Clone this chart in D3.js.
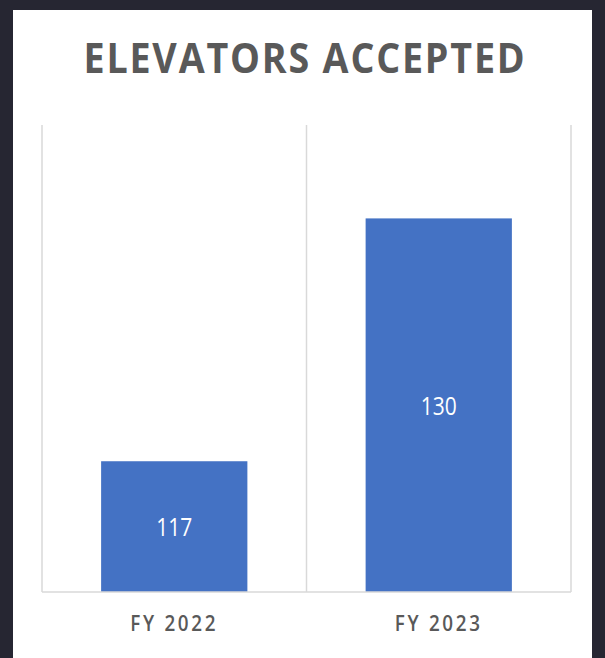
<!DOCTYPE html>
<html>
<head>
<meta charset="utf-8">
<script src="https://cdn.jsdelivr.net/npm/d3@7"></script>
<style>
  html, body { margin: 0; padding: 0; background: #262632; }
  svg { display: block; }
</style>
</head>
<body>
<svg id="chart" width="605" height="658"></svg>
<script>
// Elevators accepted per fiscal year
const categories = ["FY 2022", "FY 2023"];
const values = [117, 130];
const yDomain = [110, 135];
const title = "ELEVATORS ACCEPTED";

const svg = d3.select("#chart");
const W = 605, H = 658;

// white card
svg.append("rect")
  .attr("x", 13).attr("y", 10)
  .attr("width", 579).attr("height", H - 10)
  .attr("fill", "#ffffff");

const plot = { left: 42, right: 571, top: 125, bottom: 592 };

const x = d3.scaleBand()
  .domain(categories)
  .range([plot.left, plot.right])
  .paddingInner(0.447)
  .paddingOuter(0.2235);

const y = d3.scaleLinear()
  .domain(yDomain)
  .range([plot.bottom, plot.top]);

// category separators
const step = (plot.right - plot.left) / categories.length;
const seps = d3.range(categories.length + 1).map(i => plot.left + i * step);
svg.append("g").selectAll("line")
  .data(seps)
  .join("line")
  .attr("x1", d => d).attr("x2", d => d)
  .attr("y1", plot.top).attr("y2", plot.bottom)
  .attr("stroke", "#d9d9d9")
  .attr("stroke-width", 1.5);

// bars
svg.append("g").selectAll("rect")
  .data(values)
  .join("rect")
  .attr("x", (d, i) => x(categories[i]))
  .attr("width", x.bandwidth())
  .attr("y", d => y(d))
  .attr("height", d => y(yDomain[0]) - y(d))
  .attr("fill", "#4472c4");

// value labels, set in a tall narrow cut
svg.append("g").selectAll("text")
  .data(values)
  .join("text")
  .attr("x", (d, i) => x(categories[i]) + x.bandwidth() / 2)
  .attr("y", d => (y(d) + y(yDomain[0])) / 2)
  .attr("dy", "0.36em")
  .attr("text-anchor", "middle")
  .attr("font-family", "'Open Sans', sans-serif")
  .attr("font-size", 26)
  .attr("textLength", 36)
  .attr("lengthAdjust", "spacingAndGlyphs")
  .attr("fill", "#ffffff")
  .text(d => d);

// baseline axis
const xAxis = d3.axisBottom(x).tickSize(0).tickPadding(24);
const ax = svg.append("g")
  .attr("transform", `translate(0,${plot.bottom})`)
  .call(xAxis);
ax.select(".domain")
  .attr("d", `M${plot.left},0H${plot.right}`)
  .attr("stroke", "#d9d9d9")
  .attr("stroke-width", 1.5);
ax.selectAll(".tick text")
  .attr("font-family", "'Open Sans', sans-serif")
  .attr("font-weight", 600)
  .attr("font-size", 21)
  .attr("letter-spacing", 3)
  .attr("textLength", 88)
  .attr("lengthAdjust", "spacingAndGlyphs")
  .attr("fill", "#595959")
  .attr("dy", "0.71em");

// title
svg.append("text")
  .attr("x", 305)
  .attr("y", 73)
  .attr("text-anchor", "middle")
  .attr("font-family", "'Open Sans', sans-serif")
  .attr("font-weight", 700)
  .attr("font-size", 42)
  .attr("letter-spacing", 2)
  .attr("textLength", 443)
  .attr("lengthAdjust", "spacingAndGlyphs")
  .attr("fill", "#595959")
  .text(title);
</script>
</body>
</html>
